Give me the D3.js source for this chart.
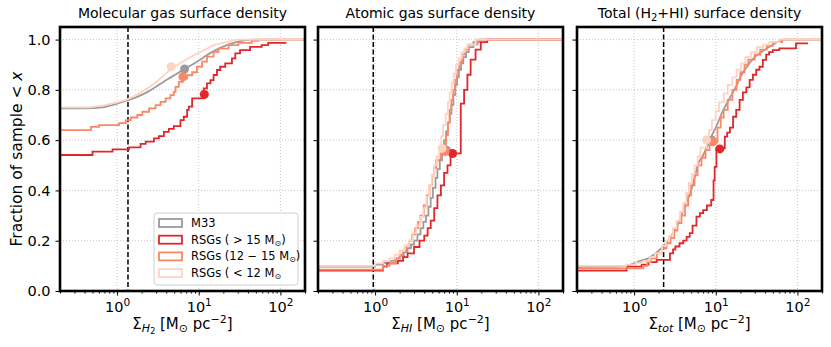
<!DOCTYPE html>
<html>
<head>
<meta charset="utf-8">
<script src="https://cdn.jsdelivr.net/npm/d3@7"></script>
<style>
body { margin: 0; background: #fff; }
text { font-family: "DejaVu Sans", sans-serif; fill: #000; }
</style>
</head>
<body>
<script>
// ---- data: [surface density, cumulative fraction] ----
var panelTitles = ["Molecular gas surface density", "Atomic gas surface density", "Total (H2+HI) surface density"];
var seriesNames = ["M33", "RSGs ( > 15 M", "RSGs (12 \u2212 15 M", "RSGs ( < 12 M"];
var seriesTails = ["", ")", ")", ""];
var seriesColors = ["#9b9b9b", "#e0282b", "#fc8767", "#fdd3c2"];
var xTickValues = [1, 10, 100];
var yTickValues = [0, 0.2, 0.4, 0.6, 0.8, 1.0];
var thresholds = [1.36, 0.95, 2.3];

// molecular (H2)
var h2M33 = [[0.1,0.726],[0.41,0.726],[0.66,0.73],[1.0,0.745],[1.4,0.76],[1.85,0.775],[2.46,0.795],[3.25,0.82],[4.3,0.845],[5.45,0.865],[6.6,0.883],[8.3,0.9],[11,0.925],[14.5,0.95],[19.2,0.97],[25.5,0.985],[33.7,0.995],[44.6,1.0],[300,1.0]];
var h2Big = [[0.1,0.541],[0.5,0.554],[0.88,0.563],[1.4,0.571],[1.94,0.585],[2.24,0.594],[2.83,0.607],[3.25,0.616],[3.74,0.633],[4.3,0.645],[4.95,0.656],[5.97,0.68],[6.56,0.693],[7.2,0.72],[7.55,0.733],[8.3,0.766],[11.5,0.806],[12.6,0.826],[13.9,0.839],[15.2,0.859],[16.7,0.879],[18.3,0.892],[21.1,0.905],[25.5,0.925],[28,0.945],[32,0.958],[42.5,0.971],[59,0.978],[71,0.987],[118,0.987]];
var h2Mid = [[0.1,0.64],[0.48,0.653],[0.6,0.66],[1.06,0.668],[1.28,0.68],[1.47,0.69],[1.77,0.7],[2.04,0.713],[2.46,0.726],[2.96,0.739],[3.4,0.752],[3.93,0.766],[4.5,0.779],[4.95,0.792],[5.2,0.812],[5.7,0.832],[6.4,0.845],[7.2,0.858],[8.3,0.87],[9.5,0.892],[11,0.912],[12.6,0.932],[15.2,0.951],[17.5,0.964],[23.2,0.978],[30.6,0.987],[44.6,0.995],[53.6,1.0],[300,1.0]];
var h2Small = [[0.1,0.73],[0.4,0.73],[0.6,0.735],[1.0,0.75],[1.4,0.765],[1.85,0.785],[2.46,0.81],[3.25,0.84],[4.3,0.875],[5.5,0.9],[7,0.92],[9,0.94],[12,0.96],[16,0.98],[22,0.99],[30,1.0],[300,1.0]];
var h2Medians = [[6.7,0.883],[11.7,0.782],[6.4,0.852],[4.6,0.892]];

// atomic (HI)
var hiM33 = [[0.1,0.097],[0.9,0.097],[1.0,0.105],[1.25,0.112],[1.5,0.12],[1.75,0.13],[2,0.14],[2.25,0.155],[2.5,0.17],[2.75,0.185],[3,0.2],[3.3,0.225],[3.6,0.25],[3.9,0.275],[4.2,0.3],[4.5,0.335],[4.8,0.37],[5.1,0.41],[5.5,0.45],[5.8,0.485],[6.2,0.52],[6.6,0.56],[7,0.6],[7.4,0.635],[7.8,0.67],[8.2,0.705],[8.6,0.74],[9.1,0.78],[9.6,0.82],[10.1,0.85],[10.6,0.88],[11.3,0.905],[12,0.93],[13,0.95],[14,0.97],[16,0.99],[19,1.0],[300,1.0]];
var hiBig = [[0.1,0.081],[0.87,0.081],[1.25,0.097],[1.4,0.11],[1.9,0.12],[2.2,0.135],[2.5,0.15],[3,0.175],[3.5,0.2],[4.0,0.22],[4.4,0.25],[4.8,0.28],[5.3,0.33],[5.8,0.38],[6.4,0.42],[7.0,0.47],[7.7,0.5],[8.4,0.547],[11.2,0.745],[12.3,0.8],[13.5,0.86],[14.8,0.92],[17,0.96],[19.7,0.99],[23.6,1.0],[300,1.0]];
var hiMid = [[0.1,0.085],[1.25,0.1],[1.5,0.11],[1.8,0.13],[2,0.145],[2.2,0.16],[2.4,0.18],[2.6,0.2],[2.85,0.225],[3.1,0.25],[3.35,0.275],[3.6,0.3],[3.95,0.34],[4.3,0.38],[4.65,0.42],[5,0.46],[5.3,0.49],[5.6,0.52],[6.3,0.555],[7.4,0.62],[7.8,0.67],[8.2,0.72],[8.6,0.76],[9,0.8],[9.5,0.84],[10,0.88],[10.7,0.91],[11.5,0.94],[12.5,0.96],[14,0.98],[18,1.0],[300,1.0]];
var hiSmall = [[0.1,0.1],[0.7,0.1],[1.0,0.11],[1.25,0.12],[1.5,0.13],[1.75,0.145],[2,0.16],[2.3,0.18],[2.6,0.2],[2.9,0.23],[3.2,0.26],[3.55,0.295],[3.9,0.33],[4.25,0.375],[4.6,0.42],[4.95,0.46],[5.3,0.5],[5.7,0.535],[6.1,0.57],[6.45,0.615],[6.8,0.66],[7.3,0.705],[7.8,0.75],[8.2,0.79],[8.7,0.83],[9.2,0.865],[9.8,0.9],[10.6,0.925],[11.5,0.95],[12.5,0.965],[13.5,0.98],[17,1.0],[300,1.0]];
var hiMedians = [[7.5,0.56],[8.9,0.547],[7.2,0.555],[6.6,0.567]];

// total (H2+HI)
var totM33 = [[0.1,0.095],[0.6,0.097],[0.8,0.1],[1,0.11],[1.2,0.12],[1.5,0.13],[1.75,0.145],[2,0.16],[2.3,0.18],[2.6,0.2],[3,0.23],[3.5,0.27],[4,0.32],[4.5,0.36],[5,0.4],[5.5,0.45],[6,0.5],[7,0.54],[8,0.58],[9,0.62],[10,0.65],[12,0.71],[15,0.77],[17.5,0.81],[20,0.85],[25,0.9],[30,0.93],[40,0.96],[50,0.98],[70,1.0],[300,1.0]];
var totBig = [[0.1,0.081],[0.81,0.097],[1.24,0.105],[1.5,0.115],[1.89,0.124],[2.75,0.15],[3.0,0.165],[3.2,0.177],[3.6,0.19],[4.0,0.2],[4.4,0.215],[4.8,0.23],[5.2,0.26],[5.8,0.296],[6.4,0.31],[7,0.322],[7.8,0.34],[8.8,0.362],[9.4,0.44],[9.7,0.494],[10.2,0.567],[12.9,0.614],[13.8,0.63],[14.9,0.65],[16.3,0.693],[17.8,0.72],[19.6,0.76],[21.5,0.79],[23.7,0.81],[26,0.84],[28.5,0.86],[31.3,0.88],[34.3,0.892],[37.7,0.919],[41.4,0.94],[45,0.95],[50,0.958],[60,0.965],[96,0.985],[135,0.985]];
var totMid = [[0.1,0.09],[0.75,0.09],[1.3,0.1],[1.45,0.115],[1.6,0.13],[1.9,0.15],[2.2,0.17],[2.5,0.19],[2.8,0.21],[3.1,0.24],[3.4,0.27],[3.8,0.3],[4.2,0.34],[4.6,0.38],[5,0.42],[5.5,0.46],[6,0.5],[6.7,0.53],[7.5,0.56],[8.4,0.58],[9.3,0.594],[10.5,0.65],[11.5,0.69],[12.5,0.72],[14,0.76],[16,0.8],[18,0.84],[20,0.87],[22.5,0.9],[25,0.92],[30,0.94],[35,0.96],[42,0.975],[50,0.99],[65,1.0],[300,1.0]];
var totSmall = [[0.1,0.1],[0.5,0.1],[0.8,0.105],[1.05,0.112],[1.3,0.12],[1.55,0.135],[1.8,0.15],[2.2,0.18],[2.45,0.2],[2.7,0.22],[3.0,0.25],[3.3,0.28],[3.65,0.315],[4,0.35],[4.35,0.39],[4.7,0.43],[5.1,0.465],[5.5,0.5],[6,0.535],[6.5,0.57],[7.7,0.6],[8.3,0.64],[9,0.68],[10,0.715],[11,0.75],[12.5,0.785],[14,0.82],[16,0.85],[18,0.88],[20.5,0.905],[23,0.93],[27,0.95],[32,0.97],[38,0.98],[45,0.99],[60,1.0],[300,1.0]];
var totMedians = [[9.0,0.6],[11.2,0.565],[9.3,0.594],[7.7,0.601]];

var panels = [
  { series: [h2M33, h2Big, h2Mid, h2Small], medians: h2Medians, smooth: [true, false, false, true] },
  { series: [hiM33, hiBig, hiMid, hiSmall], medians: hiMedians, smooth: [false, false, false, false] },
  { series: [totM33, totBig, totMid, totSmall], medians: totMedians, smooth: [true, false, false, false] }
];

// ---- layout ----
var W = 831, H = 347;
var panelLeft = [60, 318, 577], panelW = 245, panelTop = 27, panelH = 264;

var svg = d3.select("body").append("svg").attr("width", W).attr("height", H);

var x = d3.scaleLog().domain([0.2, 200]).range([0, panelW]);
var y = d3.scaleLinear().domain([0, 1.05]).range([panelH, 0]);

var minorTicks = [];
[0.1, 1, 10, 100].forEach(function (dec) {
  for (var k = 2; k <= 9; k++) {
    var v = dec * k;
    if (v >= 0.2 && v <= 200) minorTicks.push(v);
  }
});

svg.append("defs").append("clipPath").attr("id", "plotclip")
  .append("rect").attr("width", panelW).attr("height", panelH);

panels.forEach(function (panel, p) {
  var g = svg.append("g").attr("transform", "translate(" + panelLeft[p] + "," + panelTop + ")");

  // grid
  g.selectAll(".gx").data(xTickValues).enter().append("line")
    .attr("x1", function (d) { return x(d); }).attr("x2", function (d) { return x(d); })
    .attr("y1", 0).attr("y2", panelH)
    .attr("stroke", "#b8b8b8").attr("stroke-width", 0.8).attr("stroke-dasharray", "1,2");
  g.selectAll(".gy").data(yTickValues).enter().append("line")
    .attr("x1", 0).attr("x2", panelW)
    .attr("y1", function (d) { return y(d); }).attr("y2", function (d) { return y(d); })
    .attr("stroke", "#b8b8b8").attr("stroke-width", 0.8).attr("stroke-dasharray", "1,2");

  // threshold
  g.append("line")
    .attr("x1", x(thresholds[p])).attr("x2", x(thresholds[p]))
    .attr("y1", 0).attr("y2", panelH)
    .attr("stroke", "#000").attr("stroke-width", 1.5).attr("stroke-dasharray", "5,2.5");

  var plot = g.append("g").attr("clip-path", "url(#plotclip)");

  panel.series.forEach(function (data, s) {
    var line = d3.line()
      .x(function (d) { return x(d[0]); })
      .y(function (d) { return y(d[1]); })
      .curve(panel.smooth[s] ? d3.curveMonotoneX : d3.curveStepAfter);
    plot.append("path").datum(data)
      .attr("d", line)
      .attr("fill", "none")
      .attr("stroke", seriesColors[s])
      .attr("stroke-width", 1.8);
  });

  plot.selectAll(".med").data(panel.medians).enter().append("circle")
    .attr("cx", function (d) { return x(d[0]); })
    .attr("cy", function (d) { return y(d[1]); })
    .attr("r", 4.5)
    .attr("fill", function (d, i) { return seriesColors[i]; });

  // axes
  var xMinor = g.append("g").attr("transform", "translate(0," + panelH + ")")
    .call(d3.axisBottom(x).tickValues(minorTicks).tickSize(2.5).tickFormat(""));
  var xMajor = g.append("g").attr("transform", "translate(0," + panelH + ")")
    .call(d3.axisBottom(x).tickValues(xTickValues).tickSize(4.5).tickPadding(6).tickFormat(""));
  xMajor.selectAll(".tick text").each(function (d) {
    var t = d3.select(this).attr("font-size", 14.5).attr("font-family", "DejaVu Sans");
    t.append("tspan").text("10");
    t.append("tspan").text(Math.round(Math.log10(d))).attr("font-size", 10.5).attr("dy", -6);
  });
  var yAxis = g.append("g")
    .call(d3.axisLeft(y).tickValues(yTickValues).tickSize(4.5).tickPadding(5)
      .tickFormat(p === 0 ? d3.format(".1f") : ""));
  yAxis.selectAll(".tick text").attr("font-size", 14.5).attr("font-family", "DejaVu Sans");
  [xMinor, xMajor, yAxis].forEach(function (a) {
    a.select(".domain").remove();
    a.selectAll(".tick line").attr("stroke", "#000").attr("stroke-width", 1);
  });

  // frame
  g.append("rect").attr("width", panelW).attr("height", panelH)
    .attr("fill", "none").attr("stroke", "#000").attr("stroke-width", 2.6);

  // title
  var title = g.append("text").attr("x", panelW / 2).attr("y", -9)
    .attr("text-anchor", "middle").attr("font-size", 14);
  if (p === 2) {
    title.append("tspan").text("Total (H");
    title.append("tspan").text("2").attr("font-size", 10).attr("dy", 3);
    title.append("tspan").text("+HI) surface density").attr("dy", -3);
  } else {
    title.text(panelTitles[p]);
  }

  // x label
  var xl = g.append("text").attr("x", panelW / 2).attr("y", 302)
    .attr("text-anchor", "middle").attr("font-size", 15);
  xl.append("tspan").text("\u03a3");
  if (p === 0) {
    xl.append("tspan").text("H").attr("font-style", "italic").attr("font-size", 11).attr("dy", 3);
    xl.append("tspan").text("2").attr("font-size", 8).attr("dy", 2);
    xl.append("tspan").text(" [M").attr("dy", -5);
  } else if (p === 1) {
    xl.append("tspan").text("HI").attr("font-style", "italic").attr("font-size", 11).attr("dy", 3);
    xl.append("tspan").text(" [M").attr("dy", -3);
  } else {
    xl.append("tspan").text("tot").attr("font-style", "italic").attr("font-size", 11).attr("dy", 3);
    xl.append("tspan").text(" [M").attr("dy", -3);
  }
  xl.append("tspan").text("\u2299").attr("font-size", 11).attr("dy", 3);
  xl.append("tspan").text(" pc").attr("dy", -3);
  xl.append("tspan").text("\u22122").attr("font-size", 11).attr("dy", -6);
  xl.append("tspan").text("]").attr("dy", 6);
});

// y label
var yl = svg.append("text").attr("transform", "translate(22,159) rotate(-90)")
  .attr("text-anchor", "middle").attr("font-size", 15.5);
yl.append("tspan").text("Fraction of sample < ");
yl.append("tspan").text("x").attr("font-style", "italic");

// legend
var lg = svg.append("g").attr("transform", "translate(154,213)");
lg.append("rect").attr("width", 144).attr("height", 72).attr("rx", 3)
  .attr("fill", "#fff").attr("fill-opacity", 0.85)
  .attr("stroke", "#d0d0d0").attr("stroke-width", 1);
seriesNames.forEach(function (name, i) {
  var cy = 10 + i * 16.7;
  lg.append("rect").attr("x", 5).attr("y", cy - 4).attr("width", 23).attr("height", 8)
    .attr("fill", "none").attr("stroke", seriesColors[i]).attr("stroke-width", 1.8);
  var t = lg.append("text").attr("x", 37).attr("y", cy + 4).attr("font-size", 11.5);
  t.append("tspan").text(name);
  if (i > 0) {
    t.append("tspan").text("\u2299").attr("font-size", 8).attr("dy", 2);
    t.append("tspan").text(seriesTails[i]).attr("dy", -2);
  }
});
</script>
</body>
</html>
